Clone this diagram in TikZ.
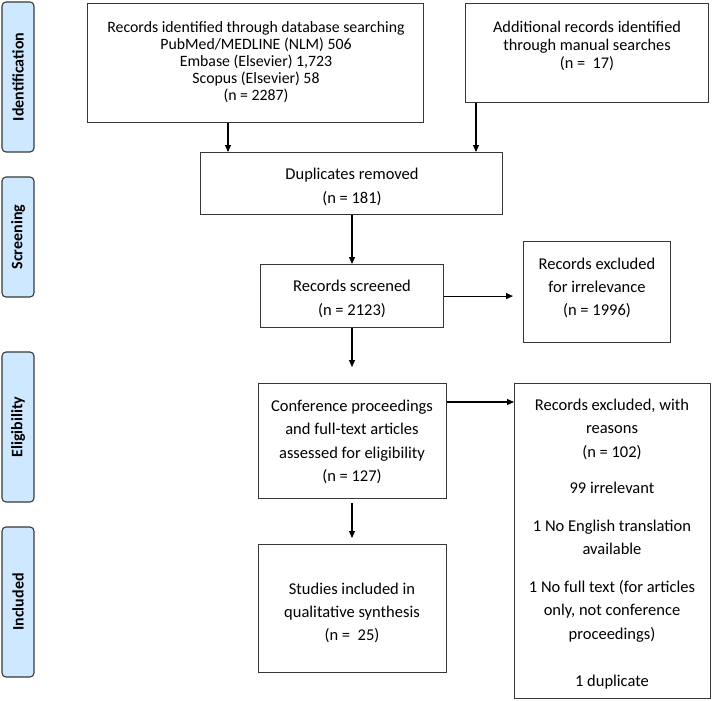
\documentclass[tikz,border=0pt]{standalone}
\usepackage{fontspec}
\setmainfont{Carlito}
\usetikzlibrary{arrows.meta}
\definecolor{phase}{RGB}{206,233,255}
\definecolor{edge}{RGB}{55,55,55}
\tikzset{
  box/.style={draw=edge, line width=1.1pt, inner sep=0pt, anchor=north west},
  phasebox/.style={draw=edge, fill=phase, line width=1.1pt, rounded corners=4pt, inner sep=0pt, minimum width=32pt},
  phaselabel/.style={rotate=90, font=\fontsize{16}{18}\selectfont\bfseries},
  txtA/.style={align=center, inner sep=0pt, font=\fontsize{15.8}{17}\selectfont},
  txtD/.style={align=center, inner sep=0pt, font=\fontsize{16.3}{18}\selectfont},
  txtB/.style={align=center, inner sep=0pt, font=\fontsize{16.5}{23.3}\selectfont},
  arr/.style={-{Triangle[length=7pt,width=6pt]}, line width=1.1pt, black}
}
\begin{document}
\begin{tikzpicture}[x=1pt,y=-1pt]
\useasboundingbox (0,0) rectangle (712,701);
% phase labels
\node[phasebox, minimum height=150pt] (p1) at (18,77) {};
\node[phaselabel] (p1t) at (p1.center) {Identification};
\node[phasebox, minimum height=120pt] (p2) at (18,237) {};
\node[phaselabel] (p2t) at (p2.center) {Screening};
\node[phasebox, minimum height=150pt] (p3) at (18,427) {};
\node[phaselabel] (p3t) at (p3.center) {Eligibility};
\node[phasebox, minimum height=150pt] (p4) at (18,602) {};
\node[phaselabel] (p4t) at (p4.center) {Included};
% boxes
\node[box, minimum width=336pt, minimum height=119pt] (db) at (87,3) {};
\node[txtA] (dbt) at (256,62) {Records identified through database searching\\PubMed/MEDLINE (NLM) 506\\Embase (Elsevier) 1,723\\Scopus (Elsevier) 58\\(n = 2287)};
\node[box, minimum width=243pt, minimum height=99pt] (add) at (465,3) {};
\node[txtD] (addt) at (587,46) {Additional records identified\\through manual searches\\(n =\ \ 17)};
\node[box, minimum width=302pt, minimum height=62pt] (dup) at (200,152) {};
\node[txtB] (dupt) at (352,187) {Duplicates removed\\(n = 181)};
\node[box, minimum width=183pt, minimum height=63pt] (scr) at (260,264) {};
\node[txtB] (scrt) at (352,299) {Records screened\\(n = 2123)};
\node[box, minimum width=147pt, minimum height=101pt] (irr) at (523,241) {};
\node[txtB] (irrt) at (597,288) {Records excluded\\for irrelevance\\(n = 1996)};
\node[box, minimum width=188pt, minimum height=115pt] (conf) at (258,383) {};
\node[txtB] (conft) at (352,442) {Conference proceedings\\and full-text articles\\assessed for eligibility\\(n = 127)};
\node[box, minimum width=196pt, minimum height=315pt] (rea) at (514,383) {};
\node[txtB] (reat) at (612,544) {Records excluded, with\\reasons\\(n = 102)\\[12.7pt]99 irrelevant\\[14.7pt]1 No English translation\\available\\[14.7pt]1 No full text (for articles\\only, not conference\\proceedings)\\[23.7pt]1 duplicate};
\node[box, minimum width=188pt, minimum height=128pt] (stu) at (258,544) {};
\node[txtB] (stut) at (352,613) {Studies included in\\qualitative synthesis\\(n =\ \ 25)};
% connectors
\coordinate (c1) at (228,0);
\coordinate (c2) at (476,0);
\coordinate (c3) at (352,0);
\draw[arr] (db.south -| c1) -- (dup.north -| c1);
\draw[arr] (add.south -| c2) -- (dup.north -| c2);
\draw[arr] (dup.south -| c3) -- (scr.north -| c3);
\draw[arr, shorten >=10pt] (scr.east) -- (scr.east -| irr.west);
\draw[arr, shorten >=16pt] (scr.south -| c3) -- (conf.north -| c3);
\coordinate (c4) at (0,402);
\draw[arr] (conf.east |- c4) -- (rea.west |- c4);
\draw[arr, shorten <=4pt, shorten >=6pt] (conf.south -| c3) -- (stu.north -| c3);
\end{tikzpicture}
\end{document}
